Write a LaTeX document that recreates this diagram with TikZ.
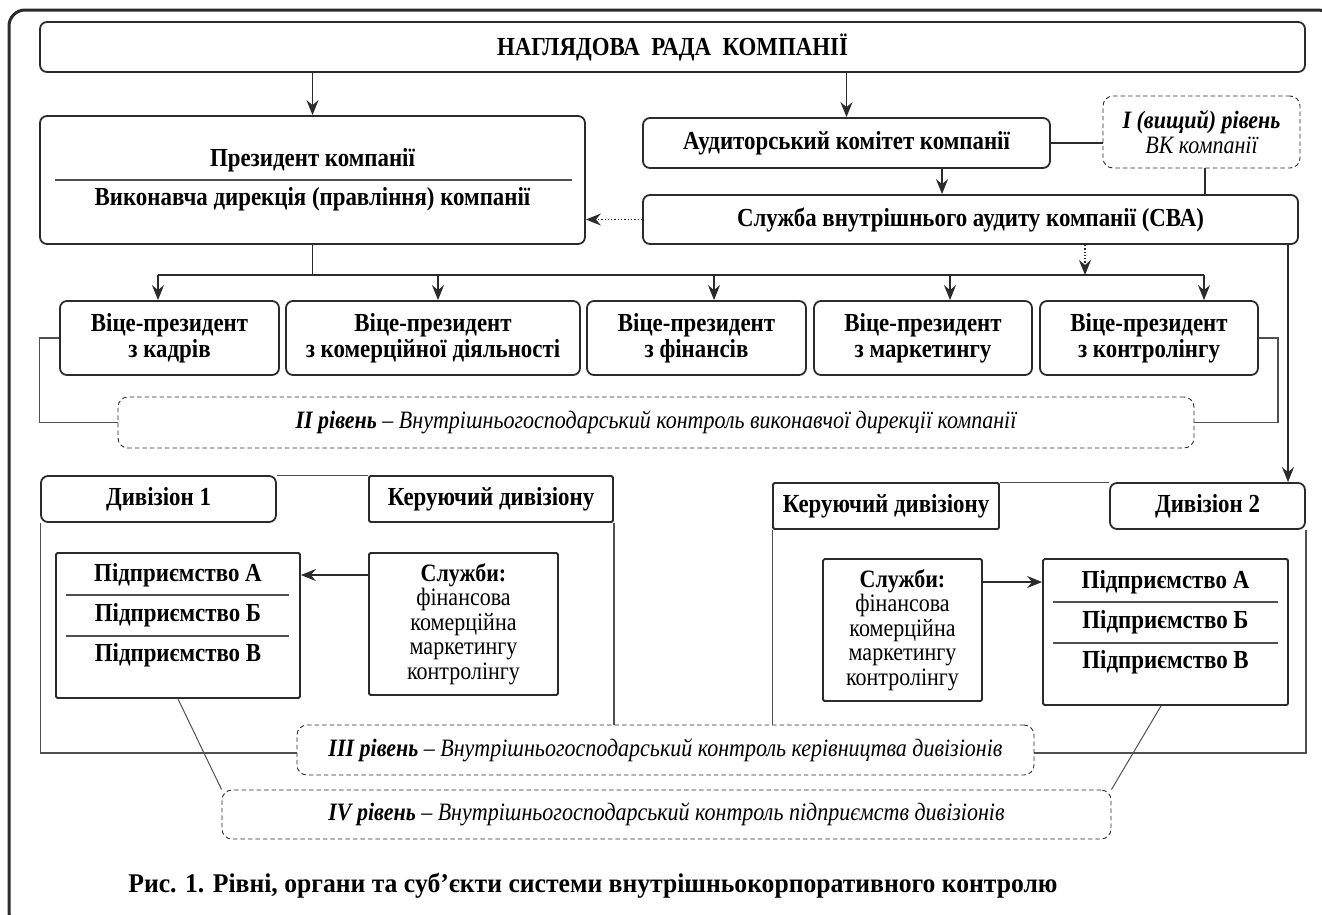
\documentclass[tikz,border=0pt]{standalone}
\usepackage{fontspec}
\setmainfont{Liberation Serif}
\newfontfamily\cond{Liberation Serif}[FakeStretch=0.88]
\newfontfamily\capf{Liberation Serif}[FakeStretch=0.95]
\usetikzlibrary{arrows.meta}
\definecolor{dk}{HTML}{2B2B2B}
\definecolor{gr}{HTML}{505050}
\newcommand\bxfont{\cond\bfseries\fontsize{26}{26}\selectfont}
\newcommand\lvfont{\cond\itshape\fontsize{25}{25}\selectfont}
\newcommand\svfont{\cond\fontsize{25}{24.5}\selectfont}
\tikzset{
  box/.style={draw=dk, line width=1.8pt, rounded corners=7pt, inner sep=0pt, align=center, font=\bxfont},
  sqbox/.style={box, rounded corners=1.5pt},
  txt/.style={inner sep=0pt, align=center, font=\bxfont},
  lvl/.style={draw=dk, line width=0.9pt, dash pattern=on 4.5pt off 3pt, rounded corners=10pt, inner sep=0pt, align=center, font=\lvfont},
  ar/.style={draw=dk, line width=1.8pt, -{Stealth[length=15pt,width=12pt,inset=5pt]}},
  dar/.style={draw=dk, line width=1.3pt, dotted, -{Stealth[length=15pt,width=12pt,inset=5pt]}},
  ln/.style={draw=dk, line width=1.8pt},
  thn/.style={draw=gr, line width=1.2pt},
  sep/.style={draw=gr, line width=1.1pt}
}
\begin{document}
\begin{tikzpicture}[x=1pt,y=-1pt]
\useasboundingbox (0,0) rectangle (1322,914);
\draw[draw=dk, line width=3pt, rounded corners=16pt] (9,10) rectangle (1334,928);

% top
\node[box, minimum width=1265pt, minimum height=50pt] (top) at (672.5,47) {НАГЛЯДОВА\ \ РАДА\ \ КОМПАНІЇ};

% president
\node[box, minimum width=545pt, minimum height=128pt] (pres) at (312.5,180) {};
\node[txt] (presA) at (312.5,160) {Президент компанії};
\node[txt] (presB) at (312.5,199) {Виконавча дирекція (правління) компанії};
\coordinate (sepL) at (55,180);
\coordinate (sepR) at (572,180);
\draw[sep] (sepL) -- (sepR);

% audit committee, level I, CBA
\node[box, minimum width=407pt, minimum height=50pt] (audit) at (846.5,143) {Аудиторський комітет компанії};
\node[lvl, minimum width=197pt, minimum height=72pt] (lvl1) at (1201.5,132) {{\bfseries I (вищий) рівень}\\ВК компанії};
\node[box, minimum width=655pt, minimum height=49pt] (cba) at (970.5,219.5) {Служба внутрішнього аудиту компанії (СВА)};

\coordinate (xa) at (942,0);
\coordinate (xb) at (1205,0);
\coordinate (xc) at (1085,0);
\coordinate (xd) at (1288,0);

\draw[ar] (pres.north |- top.south) -- (pres.north);
\draw[ar] (audit.north |- top.south) -- (audit.north);
\draw[ln] (audit.east) -- (audit.east -| lvl1.west);
\draw[ar] (audit.south -| xa) -- (cba.north -| xa);
\draw[ln] (lvl1.south -| xb) -- (cba.north -| xb);
\draw[dar] (cba.west) -- (cba.west -| pres.east);

% vice presidents
\node[box, minimum width=219pt, minimum height=74pt] (vp1) at (169.5,338) {Віце-президент\\з кадрів};
\node[box, minimum width=294pt, minimum height=74pt] (vp2) at (433,338) {Віце-президент\\з комерційної діяльності};
\node[box, minimum width=219pt, minimum height=74pt] (vp3) at (696.5,338) {Віце-президент\\з фінансів};
\node[box, minimum width=218pt, minimum height=74pt] (vp4) at (923,338) {Віце-президент\\з маркетингу};
\node[box, minimum width=218pt, minimum height=74pt] (vp5) at (1149,338) {Віце-президент\\з контролінгу};

\coordinate (b1) at (158,275);
\coordinate (b2) at (438,275);
\coordinate (b3) at (714,275);
\coordinate (b4) at (950,275);
\coordinate (b5) at (1204,275);
\draw[ln] (pres.south) -- (pres.south |- b1);
\draw[ln] (b1) -- (b5);
\draw[ar] (b1) -- (b1 |- vp1.north);
\draw[ar] (b2) -- (b2 |- vp2.north);
\draw[ar] (b3) -- (b3 |- vp3.north);
\draw[ar] (b4) -- (b4 |- vp4.north);
\draw[ar] (b5) -- (b5 |- vp5.north);
\draw[dar] (cba.south -| xc) -- (b1 -| xc);

% level II
\node[lvl, minimum width=1076pt, minimum height=51pt] (lvl2) at (656,422.5) {{\bfseries II рівень} – Внутрішньогосподарський контроль виконавчої дирекції компанії};
\draw[thn] (vp1.west) -- ++(-20,0) |- (lvl2.west);
\draw[thn] (vp5.east) -- ++(19,0) |- (lvl2.east);

% division 1
\node[box, minimum width=235pt, minimum height=46pt] (div1) at (158.5,499) {Дивізіон 1};
\node[sqbox, minimum width=244pt, minimum height=46pt] (ker1) at (491,499) {Керуючий дивізіону};
\node[sqbox, minimum width=244pt, minimum height=145pt] (ent1) at (178,625.5) {};
\node[txt] (e1a) at (178,575) {Підприємство А};
\node[txt] (e1b) at (178,615) {Підприємство Б};
\node[txt] (e1c) at (178,655) {Підприємство В};
\coordinate (s1L) at (66,595); \coordinate (s1R) at (289,595);
\coordinate (s2L) at (66,636); \coordinate (s2R) at (289,636);
\draw[sep] (s1L) -- (s1R);
\draw[sep] (s2L) -- (s2R);
\node[sqbox, minimum width=189pt, minimum height=142pt, font=\svfont] (srv1) at (463.5,624) {{\bfseries Служби:}\\фінансова\\комерційна\\маркетингу\\контролінгу};
\draw[ar] (srv1.west |- e1a) -- (ent1.east |- e1a);

% division 2
\node[sqbox, minimum width=226pt, minimum height=46pt] (ker2) at (886,506) {Керуючий дивізіону};
\node[box, minimum width=195pt, minimum height=46pt] (div2) at (1207.5,506) {Дивізіон 2};
\node[sqbox, minimum width=159pt, minimum height=142pt, font=\svfont] (srv2) at (902.5,630) {{\bfseries Служби:}\\фінансова\\комерційна\\маркетингу\\контролінгу};
\node[sqbox, minimum width=245pt, minimum height=146pt] (ent2) at (1165.5,632) {};
\node[txt] (e2a) at (1165.5,582) {Підприємство А};
\node[txt] (e2b) at (1165.5,622) {Підприємство Б};
\node[txt] (e2c) at (1165.5,662) {Підприємство В};
\coordinate (t1L) at (1053,602); \coordinate (t1R) at (1278,602);
\coordinate (t2L) at (1053,643); \coordinate (t2R) at (1278,643);
\draw[sep] (t1L) -- (t1R);
\draw[sep] (t2L) -- (t2R);
\draw[ar] (srv2.east |- e2a) -- (ent2.west |- e2a);
\draw[ar] (cba.south -| xd) -- (div2.north -| xd);

% levels III and IV
\node[lvl, minimum width=737pt, minimum height=50pt] (lvl3) at (665.5,750) {{\bfseries III рівень} – Внутрішньогосподарський контроль керівництва дивізіонів};
\node[lvl, minimum width=889pt, minimum height=49pt] (lvl4) at (666.5,814.5) {{\bfseries IV рівень} – Внутрішньогосподарський контроль підприємств дивізіонів};

% division frames
\coordinate (yb) at (0,753);
\draw[thn] (div1.north east) -- (ker1.north west);
\draw[thn] (div1.south west) -- (div1.south west |- yb) -- (lvl3.west |- yb);
\draw[thn] (ker1.south east) -- (ker1.south east |- lvl3.north);
\draw[thn] (ker2.north east) -- (div2.north west);
\draw[thn] (ker2.south west) -- (ker2.south west |- lvl3.north);
\draw[thn] (div2.south east) -- (div2.south east |- yb) -- (lvl3.east |- yb);

% links to level IV
\draw[thn, line width=1pt] (ent1.south) -- (lvl4.north west);
\coordinate (x2) at (1161,0);
\draw[thn, line width=1pt] (ent2.south -| x2) -- (lvl4.north east);

% caption
\node[inner sep=0pt, font=\capf\bfseries\fontsize{27}{27}\selectfont] (cap) at (593,886) {Рис. 1. Рівні, органи та суб’єкти системи внутрішньокорпоративного контролю};
\end{tikzpicture}
\end{document}
